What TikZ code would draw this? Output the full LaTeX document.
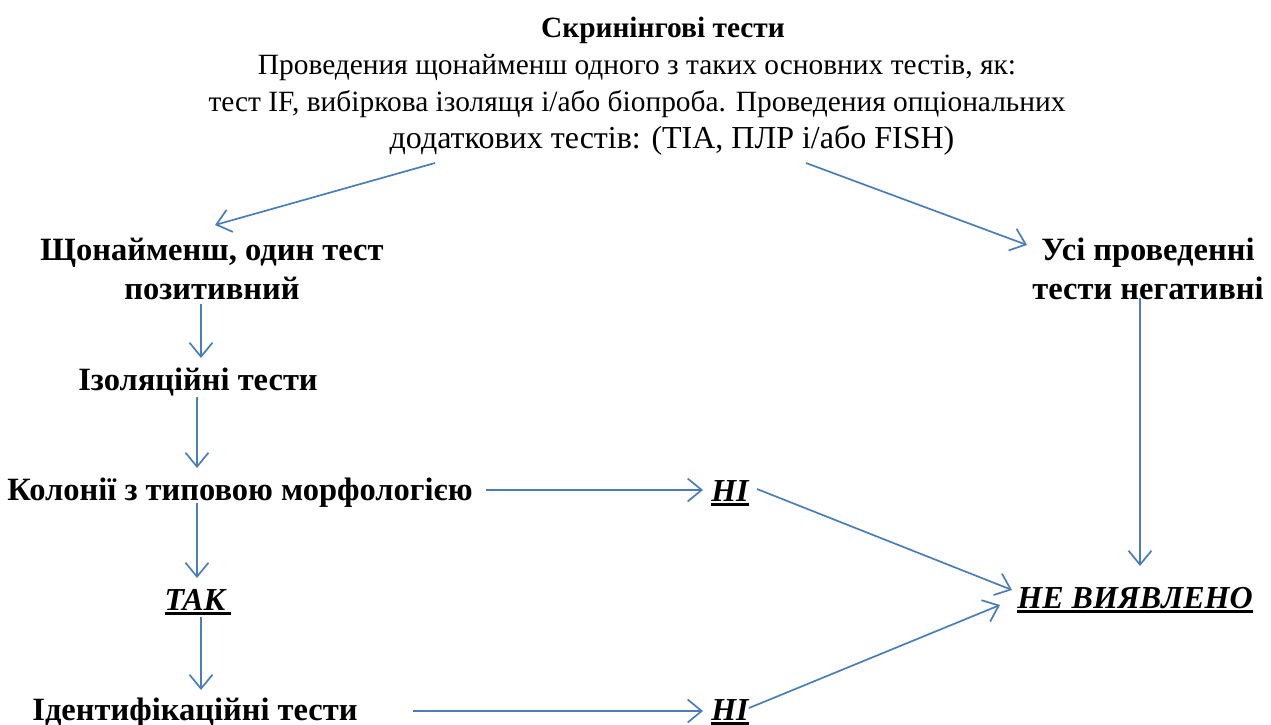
\documentclass[tikz,border=0pt]{standalone}
\usepackage{fontspec}
\setmainfont{Liberation Serif}
\usetikzlibrary{arrows.meta}
\definecolor{arr}{HTML}{4A7EBB}
\newcommand{\myul}[1]{\setbox0\hbox{#1}\rlap{\rule[-5pt]{\wd0}{3.5pt}}\box0}
\begin{document}
\begin{tikzpicture}[x=1pt,y=-1pt,
  txt/.style={inner sep=0pt, font=\fontsize{29.4}{37}\selectfont, align=center},
  bt/.style={txt, font=\fontsize{32.5}{39}\selectfont\bfseries},
  res/.style={txt, font=\fontsize{32}{38}\selectfont\bfseries\itshape},
  conn/.style={draw=arr, line width=1.7pt, -{Straight Barb[length=14pt,width=23pt,line width=1.7pt]}}]
\useasboundingbox (0,0) rectangle (1271,724);
\node[txt] (title) at (637,86) {\hspace*{52pt}\textbf{Скринінгові тести}\\
  Проведения щонайменш одного з таких основних тестів, як:\\
  тест IF, вибіркова ізолящя і/або біопроба. Проведения опціональних\\
  \hspace*{70pt}{\fontsize{32}{37}\selectfont додаткових тестів: (ТІА, ПЛР і/або FISH)}};
\node[bt] (pos) at (212,269) {Щонайменш, один тест\\позитивний};
\node[bt] (neg) at (1148,269) {Усі проведенні\\тести негативні};
\node[bt, anchor=base] (iso) at (198,390) {Ізоляційні тести};
\node[bt, anchor=base] (col) at (240,500) {Колонії з типовою морфологією};
\node[res, anchor=base] (no1) at (730,501) {\myul{НІ}};
\node[res, anchor=base] (yes) at (198,610) {\myul{ТАК\hspace{6pt}}};
\node[res, anchor=base] (notf) at (1135,608) {\myul{НЕ ВИЯВЛЕНО}};
\node[bt, anchor=base] (ident) at (195,720) {Ідентифікаційні тести};
\node[res, anchor=base] (no2) at (730,720) {\myul{НІ}};
\draw[conn] ([shift={(-202pt,-77pt)}]title.center) -- ([shift={(3pt,44pt)}]pos.center);
\draw[conn] ([shift={(169pt,-77pt)}]title.center) -- ([shift={(-121pt,24pt)}]neg.center);
\draw[conn] ([shift={(-11pt,-35pt)}]pos.center) -- ([shift={(3pt,32pt)}]iso.base);
\draw[conn] ([shift={(-1pt,-7pt)}]iso.base) -- ([shift={(-43pt,32pt)}]col.base);
\draw[conn] ([shift={(246pt,10pt)}]col.base) -- ([shift={(-27pt,11pt)}]no1.base);
\draw[conn] ([shift={(-43pt,-3pt)}]col.base) -- ([shift={(-1pt,32pt)}]yes.base);
\draw[conn] ([shift={(3pt,-7pt)}]yes.base) -- ([shift={(6pt,30pt)}]ident.base);
\draw[conn] ([shift={(218pt,9pt)}]ident.base) -- ([shift={(-27pt,9pt)}]no2.base);
\draw[conn] ([shift={(-8pt,-29pt)}]neg.center) -- ([shift={(5pt,42pt)}]notf.base);
\draw[conn] ([shift={(27pt,12pt)}]no1.base) -- ([shift={(-123pt,18pt)}]notf.base);
\draw[conn] ([shift={(19pt,12pt)}]no2.base) -- ([shift={(-135pt,3pt)}]notf.base);
\end{tikzpicture}
\end{document}
